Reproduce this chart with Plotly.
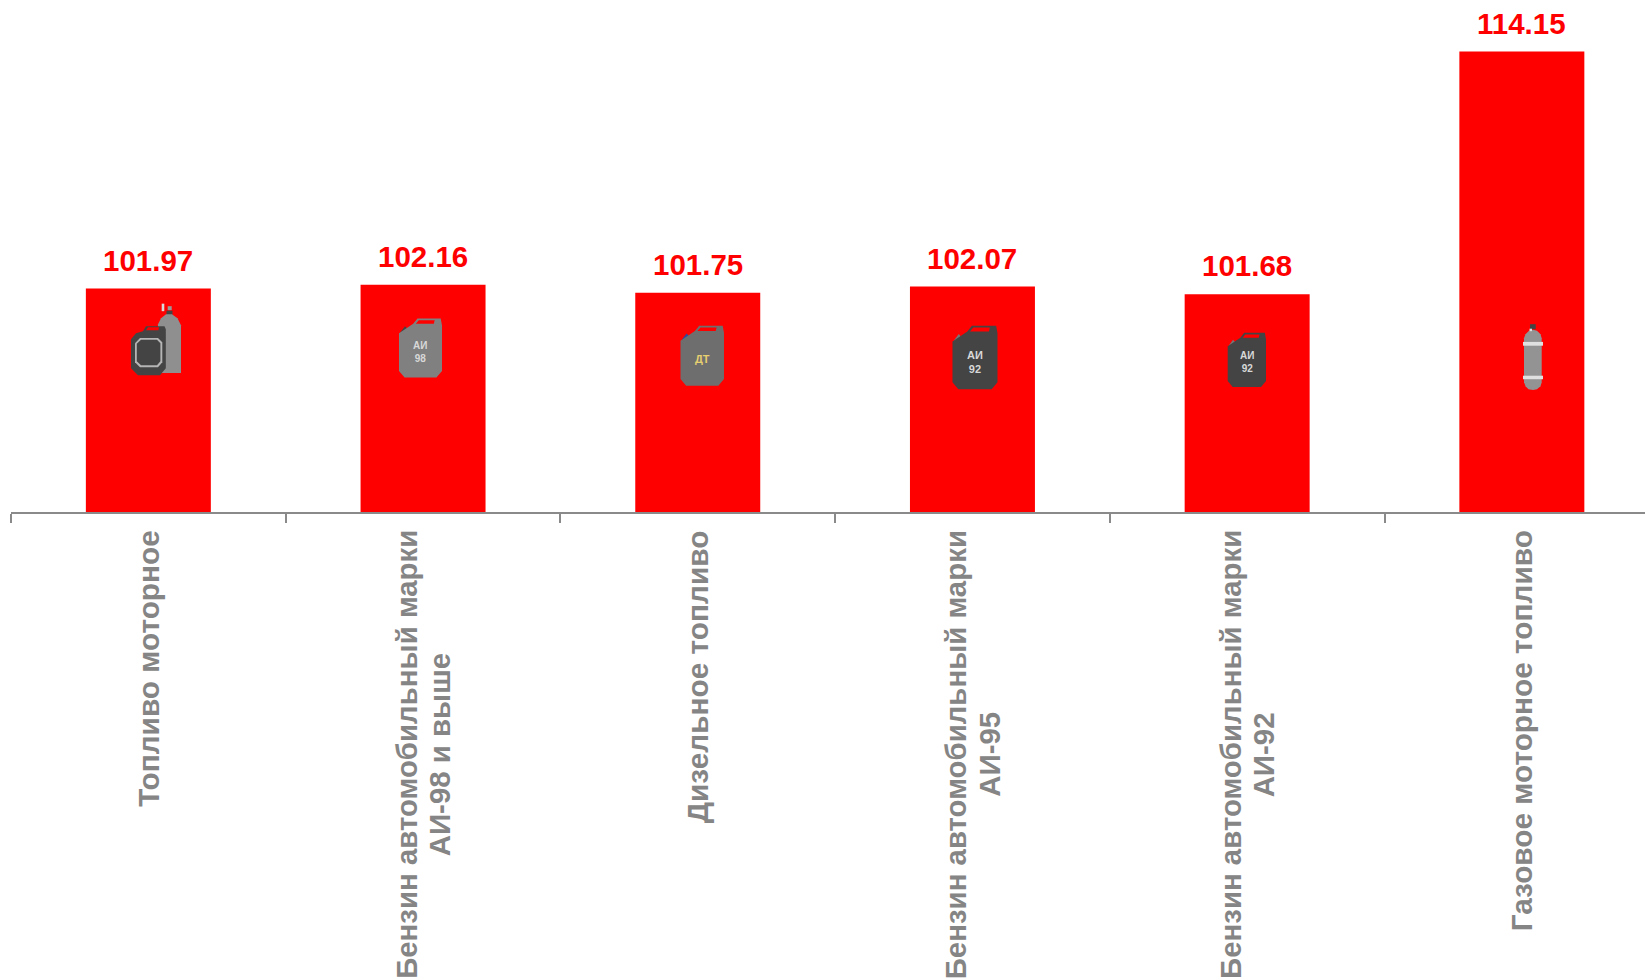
import plotly.graph_objects as go

categories = ["Топливо моторное",
              "Бензин автомобильный марки<br>АИ-98 и выше",
              "Дизельное топливо",
              "Бензин автомобильный марки<br>АИ-95",
              "Бензин автомобильный марки<br>АИ-92",
              "Газовое моторное топливо"]
values = [101.97, 102.16, 101.75, 102.07, 101.68, 114.15]
value_labels = ["101.97", "102.16", "101.75", "102.07", "101.68", "114.15"]

W, H = 1645, 980
AX_L, AX_Y = 11.0, 511.7
CAT_W = 274.7
UNIT = 19.44
Y_BASE = 90.481
RED, GREY = "#ff0000", "#8a8a8a"
LABEL = "#858585"
FONT = "Liberation Sans"

fig = go.Figure(go.Bar(x=categories, y=values, width=0.455, marker=dict(color=RED, line=dict(width=0)),
                       hoverinfo="x+y"))

shapes, annos = [], []

def px(x):
    return (x - AX_L) / (W - AX_L)

def py(y):
    return (AX_Y - y) / AX_Y

def path(points, fill):
    d = "M" + " L".join(f"{px(x):.5f},{py(y):.5f}" for x, y in points) + " Z"
    shapes.append(dict(type="path", xref="paper", yref="paper", path=d, fillcolor=fill,
                       line=dict(width=0), layer="above"))

def rect(x0, y0, x1, y1, fill):
    shapes.append(dict(type="rect", xref="paper", yref="paper", x0=px(x0), x1=px(x1), y0=py(y0), y1=py(y1),
                       fillcolor=fill, line=dict(width=0), layer="above"))

def can(x0, y0, x1, y1, body, capcol):
    w, h = x1 - x0, y1 - y0
    u = lambda a, b: (x0 + a * w, y0 + b * h)
    path([u(.03, .235), u(.14, .13), u(.20, .18), u(.09, .285)], capcol)
    path([u(.13, 1), u(0, .89), u(0, .25), u(.33, .09), u(.43, 0), u(.97, 0), u(1, .12),
          u(1, .89), u(.87, 1)], body)
    path([u(.39, .09), u(.46, .03), u(.83, .03), u(.81, .09)], RED)

def can_text(x, y, lines, col, size=11):
    annos.append(dict(xref="paper", yref="paper", x=px(x), y=py(y), text="<br>".join(lines), showarrow=False,
                      font=dict(family=FONT, size=size, color=col, weight="bold"), xanchor="center",
                      yanchor="middle", align="center"))

# Motor-fuel icon: cylinder behind a canister
rect(161.7, 303.5, 164.3, 311, "#d9d9d9")
rect(167.7, 306, 171.7, 310, "#999999")
rect(166.5, 310.5, 172.5, 315, "#444444")
path([(158, 372.7), (158, 324), (161, 318), (166, 314), (172, 314), (177.5, 318), (181, 325), (181, 372.7)], "#8f8f8f")
path([(138, 375), (131, 368), (131, 339), (136, 333), (143, 331), (146, 326), (164.5, 326), (165.8, 329),
      (165.8, 368), (160, 375)], "#444444")
path([(146, 330), (148, 327), (159, 327), (158.3, 330)], RED)
path([(135, 343), (140, 337.7), (158, 337.7), (162.3, 342), (162.3, 362), (158, 367), (140, 367), (135, 362)], "#b5b5b5")
path([(136.8, 343.6), (141, 339.6), (157, 339.6), (160.4, 343), (160.4, 361), (157, 365), (141, 365), (136.8, 361)],
     "#444444")

# Canisters
can(399, 318.3, 442, 377.3, "#808080", "#444444")
can_text(420.5, 351.5, ["АИ", "98"], "#d8d8d8", 10)
can(680.5, 325.5, 724, 385.5, "#6e6e6e", "#2b4aa0")
can_text(702, 358.5, ["ДТ"], "#e6cf70", 11)
can(952.5, 325.5, 997.5, 389, "#444444", "#777777")
can_text(975, 362, ["АИ", "92"], "#d8d8d8", 11)
can(1227.7, 332.6, 1266, 386.7, "#444444", "#777777")
can_text(1246.5, 362, ["АИ", "92"], "#d8d8d8", 10)

# Gas cylinder icon
rect(1530, 324, 1535.7, 329, "#444444")
path([(1524, 382), (1524, 338), (1525.5, 334), (1529, 330.5), (1533, 329.5), (1537, 330.5), (1540.5, 334),
      (1541.7, 338), (1541.7, 382), (1540.5, 386), (1537, 389), (1533, 389.7), (1528.5, 389), (1525.5, 386)], "#939393")
rect(1529.5, 328.5, 1532, 331, "#e0e0e0")
rect(1523, 341.7, 1543, 345.5, "#e0e0e0")
rect(1523, 375.5, 1543, 379, "#e0e0e0")

# Value labels
for c, v, t in zip(categories, values, value_labels):
    annos.append(dict(x=c, y=v, xref="x", yref="y", text=t, showarrow=False, yanchor="bottom", yshift=10,
                      font=dict(family=FONT, size=29.5, color=RED, weight="bold")))

# Rotated category labels: top-aligned single lines, centred two-line blocks with tight leading
LEAD = 16.7
for c in categories:
    parts = c.split("<br>")
    common = dict(x=c, y=0, xref="x", yref="paper", showarrow=False, textangle=-90, xanchor="center")
    if len(parts) == 1:
        annos.append(dict(text=parts[0], yanchor="top", yshift=-16,
                          font=dict(family=FONT, size=29.8, color=LABEL, weight="bold"), **common))
    else:
        for part, dx in zip(parts, (-LEAD, LEAD)):
            annos.append(dict(text=part, yanchor="middle", yshift=-242.5, xshift=dx,
                              font=dict(family=FONT, size=29.4, color=LABEL, weight="bold"), **common))

fig.update_layout(
    width=W, height=H, autosize=False, showlegend=False, paper_bgcolor="white", plot_bgcolor="white",
    margin=dict(l=AX_L, r=0, t=0, b=H - AX_Y, pad=0),
    xaxis=dict(type="category", range=[-0.5, (W - AX_L) / CAT_W - 0.5], tickson="boundaries", ticks="outside",
               ticklen=9, tickwidth=1.5, tickcolor=GREY, showline=True, linecolor=GREY, linewidth=2,
               showgrid=False, zeroline=False, showticklabels=False),
    yaxis=dict(range=[Y_BASE, Y_BASE + AX_Y / UNIT], visible=False, showgrid=False, zeroline=False),
    shapes=shapes, annotations=annos,
)

fig.write_html("out.html", config=dict(displayModeBar=False),
               post_script="document.body.style.margin='0';document.documentElement.style.overflow='hidden';")
